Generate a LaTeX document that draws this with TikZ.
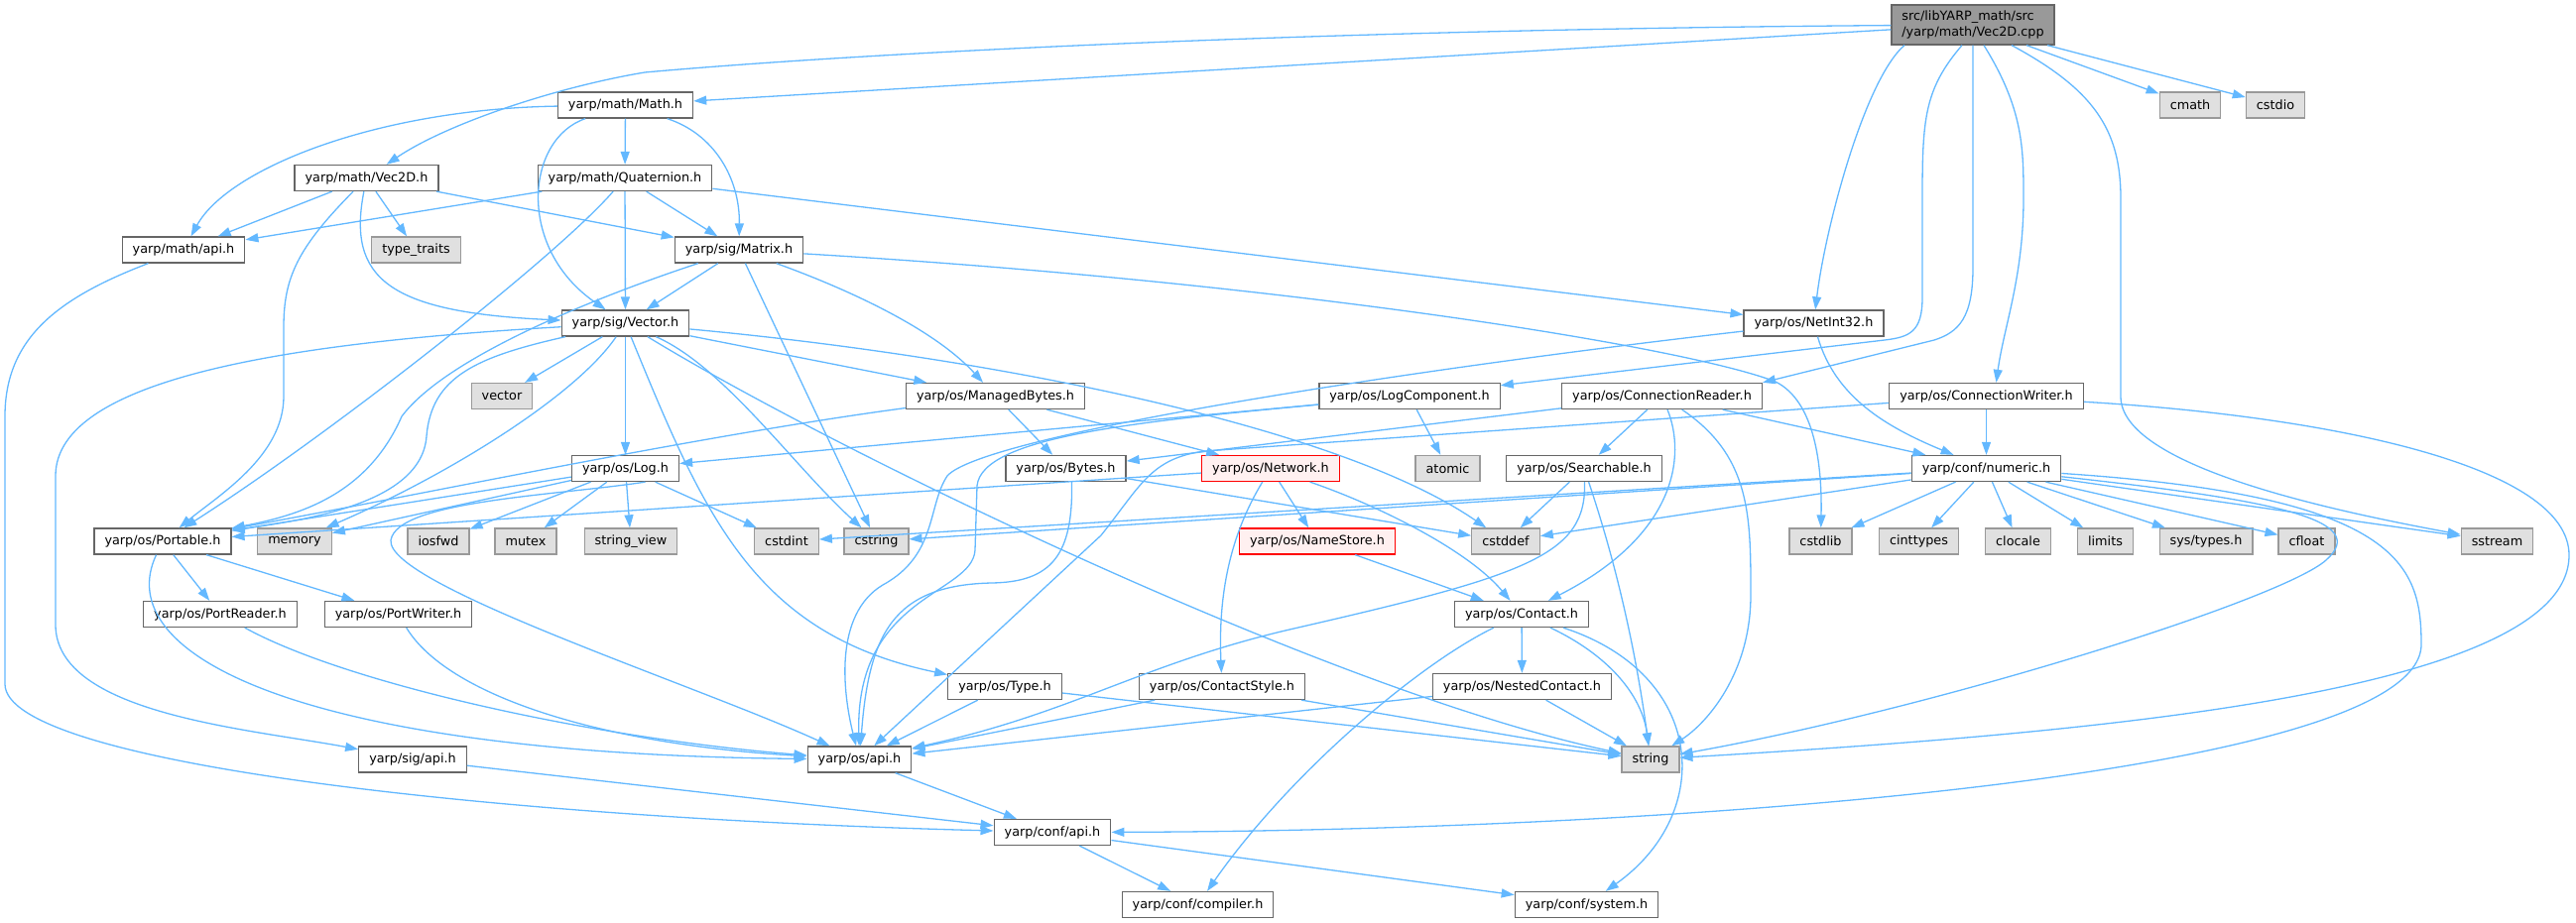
\documentclass[tikz,border=0pt]{standalone}
\usepackage{fontspec}
\setmainfont{DejaVu Sans}
\usepackage{tikz}
\usetikzlibrary{arrows.meta}
\definecolor{edgeblue}{RGB}{99,184,255}
\definecolor{darkgrey}{RGB}{102,102,102}
\definecolor{midgrey}{RGB}{153,153,153}
\definecolor{lightgrey}{RGB}{224,224,224}
\definecolor{palered}{RGB}{255,240,240}
\tikzstyle{fl}=[%
      rectangle, draw=darkgrey, line width=1.3pt, fill=white,
      minimum height=26pt, inner xsep=10.5pt, inner ysep=0pt,
      font=\fontsize{12.8}{16}\selectfont
]
\tikzstyle{sy}=[fl, draw=midgrey, fill=lightgrey]
\tikzstyle{tr}=[fl, draw=red, fill=palered]
\tikzstyle{mn}=[fl, fill=midgrey, align=left, minimum height=40pt]
\tikzstyle{dep}=[draw=edgeblue, line width=1.3pt, -{Triangle[length=13pt,width=9pt]}]

\begin{document}
\begin{tikzpicture}[x=1pt, y=-1pt, every edge/.style={dep}]
    \useasboundingbox (0,0) rectangle (2597,931);

    \node[mn] (main)      at (1989,25)     {src/libYARP\_math/src\\/yarp/math/Vec2D.cpp};
    \node[fl] (mathh)     at (630.5,106)   {yarp/math/Math.h};
    \node[sy] (cmath)     at (2208,106)    {cmath};
    \node[sy] (cstdio)    at (2294,106)    {cstdio};
    \node[fl] (vecd)      at (369.5,179.5) {yarp/math/Vec2D.h};
    \node[fl] (quat)      at (630,179.5)   {yarp/math/Quaternion.h};
    \node[fl] (mapi)      at (185,252)     {yarp/math/api.h};
    \node[sy] (ttraits)   at (419.5,252)   {type\_traits};
    \node[fl] (matrix)    at (745,252)     {yarp/sig/Matrix.h};
    \node[fl] (vector)    at (630.5,326)   {yarp/sig/Vector.h};
    \node[fl] (netint)    at (1828.5,326)  {yarp/os/NetInt32.h};
    \node[sy] (vectorh)   at (506,399.5)   {vector};
    \node[fl] (mbytes)    at (1003.5,399.5) {yarp/os/ManagedBytes.h};
    \node[fl] (logc)      at (1421,399.5)  {yarp/os/LogComponent.h};
    \node[fl] (creader)   at (1675.5,399.5) {yarp/os/ConnectionReader.h};
    \node[fl] (cwriter)   at (2002.5,399.5) {yarp/os/ConnectionWriter.h};
    \node[fl] (logh)      at (630.5,472.5) {yarp/os/Log.h};
    \node[fl] (bytes)     at (1074.5,472.5) {yarp/os/Bytes.h};
    \node[tr] (network)   at (1281,472.5)  {yarp/os/Network.h};
    \node[sy] (atomic)    at (1459.5,472.5) {atomic};
    \node[fl] (search)    at (1597,472.5)  {yarp/os/Searchable.h};
    \node[fl] (numeric)   at (2002.5,472.5) {yarp/conf/numeric.h};
    \node[fl] (portable)  at (164,546)     {yarp/os/Portable.h};
    \node[sy] (memory)    at (297,546)     {memory};
    \node[sy] (iosfwd)    at (442,546)     {iosfwd};
    \node[sy] (mutex)     at (530,546)     {mutex};
    \node[sy] (strview)   at (636,546)     {string\_view};
    \node[sy] (cstdint)   at (793,546)     {cstdint};
    \node[sy] (cstring)   at (883.5,546)   {cstring};
    \node[tr] (namestore) at (1328,546)    {yarp/os/NameStore.h};
    \node[sy] (cstddef)   at (1518,546)    {cstddef};
    \node[sy] (cstdlib)   at (1835.5,546)  {cstdlib};
    \node[sy] (cinttypes) at (1934.5,546)  {cinttypes};
    \node[sy] (clocale)   at (2034.5,546)  {clocale};
    \node[sy] (limits)    at (2122.5,546)  {limits};
    \node[sy] (systypes)  at (2224,546)    {sys/types.h};
    \node[sy] (cfloat)    at (2325.5,546)  {cfloat};
    \node[sy] (sstream)   at (2517.5,546)  {sstream};
    \node[fl] (preader)   at (222,619.5)   {yarp/os/PortReader.h};
    \node[fl] (pwriter)   at (401.5,619.5) {yarp/os/PortWriter.h};
    \node[fl] (contact)   at (1534,619.5)  {yarp/os/Contact.h};
    \node[fl] (typeh)     at (1013,692.5)  {yarp/os/Type.h};
    \node[fl] (cstyle)    at (1232,692.5)  {yarp/os/ContactStyle.h};
    \node[fl] (nested)    at (1534.5,692.5) {yarp/os/NestedContact.h};
    \node[fl] (sigapi)    at (416,766)     {yarp/sig/api.h};
    \node[fl] (osapi)     at (866.5,766)   {yarp/os/api.h};
    \node[sy] (string)    at (1664,766)    {string};
    \node[fl] (confapi)   at (1061,839.5)  {yarp/conf/api.h};
    \node[fl] (compiler)  at (1207.5,912.5) {yarp/conf/compiler.h};
    \node[fl] (system)    at (1599.5,912.5) {yarp/conf/system.h};

    \path (main) edge (mathh)
          ([xshift=54pt]main.south) edge (cmath)
          ([xshift=75pt]main.south) edge (cstdio)
          (mathh) edge (quat)
          (vecd) edge (mapi)
          (vecd) edge (ttraits)
          (vecd) edge (matrix)
          (quat) edge (mapi)
          (quat) edge (vector)
          (quat) edge (matrix)
          (quat) edge (netint)
          (matrix) edge (vector)
          (matrix) edge (cstring)
          (vector) edge (vectorh)
          (vector) edge (logh)
          (vector) edge (mbytes)
          (logh) edge (portable)
          (logh) edge (memory)
          (logh) edge (iosfwd)
          (logh) edge (mutex)
          (logh) edge (strview)
          (logh) edge (cstdint)
          (mbytes) edge (bytes)
          (mbytes) edge (network)
          (bytes) edge (cstddef)
          (logc) edge (atomic)
          (logc) edge (logh)
          (creader) edge (bytes)
          (creader) edge (search)
          (creader) edge (numeric)
          (cwriter) edge (numeric)
          (numeric) edge (cstdlib)
          (numeric) edge (cinttypes)
          (numeric) edge (clocale)
          (numeric) edge (limits)
          (numeric) edge (systypes)
          (numeric) edge (cfloat)
          (numeric) edge (sstream)
          (numeric) edge (cstddef)
          (numeric) edge (cstring)
          (numeric) edge (cstdint)
          (search) edge (cstddef)
          (network) edge (portable)
          (network) edge (namestore)
          (namestore) edge (contact)
          (contact) edge (nested)
          (nested) edge (osapi)
          (nested) edge (string)
          (cstyle) edge (osapi)
          (cstyle) edge (string)
          (typeh) edge (osapi)
          (typeh) edge (string)
          (portable) edge (preader)
          (portable) edge (pwriter)
          (sigapi) edge (confapi)
          (osapi) edge (confapi)
          (confapi) edge (compiler)
          (confapi) edge (system)
    ;

    % curved dependencies
    \draw[dep] (main) .. controls (1300,30) and (850,55) .. (650,73) .. controls (560,88) and (450,125) .. (vecd);
    \draw[dep] ([xshift=-69pt]main.south) .. controls (1880,80) and (1840,230) .. (netint);
    \draw[dep] ([xshift=-11pt]main.south) .. controls (1940,90) and (1938,120) .. (1938,200) -- (1938,300) .. controls (1938,335) and (1925,340) .. (1900,343) -- (logc);
    \draw[dep] (main.south) -- (1989,270) .. controls (1989,320) and (1975,335) .. (1950,343) -- (creader.north east);
    \draw[dep] ([xshift=11pt]main.south) .. controls (2040,110) and (2040,150) .. (2040,200) .. controls (2040,280) and (2020,330) .. ([xshift=10pt]cwriter.north);
    \draw[dep] ([xshift=39pt]main.south) .. controls (2110,90) and (2138,130) .. (2138,200) -- (2138,400) .. controls (2138,470) and (2350,515) .. (sstream);
    \draw[dep] (mathh) .. controls (380,110) and (230,170) .. (mapi);
    \draw[dep] (mathh) .. controls (530,140) and (520,250) .. (vector);
    \draw[dep] (mathh) .. controls (720,135) and (746,180) .. (matrix);
    \draw[dep] (vecd) .. controls (350,280) and (390,315) .. (vector);
    \draw[dep] (vecd) .. controls (300,250) and (286,280) .. (286,330) -- (286,400) .. controls (286,460) and (220,500) .. (portable);
    \draw[dep] (quat) .. controls (560,260) and (330,440) .. (portable);
    \draw[dep] (matrix) .. controls (850,290) and (940,330) .. (mbytes);
    \draw[dep] (matrix) .. controls (1300,285) and (1700,350) .. (1790,385) .. controls (1830,405) and (1837,470) .. (cstdlib);
    \draw[dep] (matrix) .. controls (600,300) and (450,360) .. (405,420) .. controls (370,500) and (300,520) .. (portable);
    \draw[dep] (vector) .. controls (300,345) and (56,380) .. (56,480) -- (56,630) .. controls (56,720) and (250,735) .. (sigapi);
    \draw[dep] (vector) .. controls (480,360) and (435,380) .. (430,440) .. controls (425,510) and (300,525) .. (portable);
    \draw[dep] (vector) .. controls (580,400) and (450,480) .. (memory);
    \draw[dep] (vector) .. controls (710,520) and (760,640) .. (typeh);
    \draw[dep] (vector) .. controls (730,370) and (800,470) .. (cstring);
    \draw[dep] (vector) .. controls (1000,360) and (1350,430) .. (cstddef);
    \draw[dep] (vector) .. controls (850,460) and (1350,700) .. (string);
    \draw[dep] ([xshift=20pt]logh.south) .. controls (560,500) and (400,505) .. (394,545) .. controls (390,590) and (700,690) .. (osapi);
    \draw[dep] (mbytes) .. controls (700,440) and (420,500) .. (portable);
    \draw[dep] ([xshift=6pt]bytes.south) .. controls (1082,560) and (1060,587) .. (1000,588) .. controls (900,590) and (876,640) .. (osapi);
    \draw[dep] (logc) .. controls (1150,425) and (990,440) .. (985,490) -- (983,555) .. controls (980,600) and (862,600) .. (osapi);
    \draw[dep] (netint) .. controls (1850,400) and (1900,430) .. (numeric);
    \draw[dep] (netint) .. controls (1400,375) and (990,440) .. (955,480) .. controls (935,510) and (945,560) .. (890,590) .. controls (840,620) and (850,700) .. (osapi);
    \draw[dep] (creader) .. controls (1700,460) and (1690,540) .. (contact);
    \draw[dep] (creader) .. controls (1765,460) and (1765,520) .. (1765,600) .. controls (1765,680) and (1720,730) .. (string);
    \draw[dep] (cwriter) .. controls (2350,420) and (2590,470) .. (2590,560) .. controls (2590,700) and (2100,740) .. (string);
    \draw[dep] (cwriter) -- (1215,455) .. controls (1160,462) and (1150,490) .. (1110,540) -- (osapi);
    \draw[dep] (numeric) .. controls (2300,505) and (2390,525) .. (2345,565) .. controls (2300,605) and (1950,715) .. (string);
    \draw[dep] (numeric) .. controls (2420,500) and (2441,570) .. (2441,650) .. controls (2441,780) and (1700,838) .. (confapi);
    \draw[dep] (search) .. controls (1600,560) and (1540,580) .. (1300,635) .. controls (1150,670) and (1080,720) .. (osapi);
    \draw[dep] (search) .. controls (1640,600) and (1655,700) .. (string);
    \draw[dep] (network) .. controls (1240,540) and (1228,600) .. (cstyle);
    \draw[dep] (network) .. controls (1390,510) and (1480,555) .. (contact);
    \draw[dep] (contact) .. controls (1620,660) and (1655,700) .. (string);
    \draw[dep] (contact) .. controls (1720,680) and (1730,820) .. (system);
    \draw[dep] (contact) .. controls (1430,670) and (1300,780) .. (compiler);
    \draw[dep] (portable) .. controls (110,660) and (300,760) .. (osapi);
    \draw[dep] (preader) .. controls (350,690) and (600,745) .. (osapi);
    \draw[dep] (pwriter) .. controls (450,700) and (600,750) .. (osapi);
    \draw[dep] (mapi) .. controls (60,300) and (5,340) .. (5,420) -- (5,690) .. controls (5,770) and (500,825) .. (confapi);
\end{tikzpicture}
\end{document}
